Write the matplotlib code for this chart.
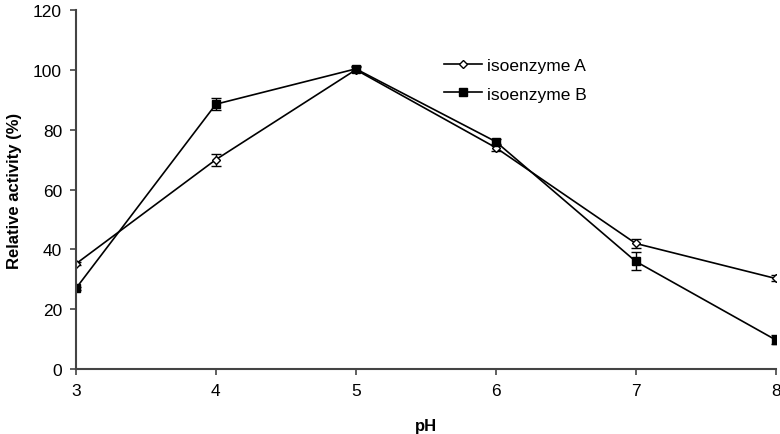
import matplotlib
matplotlib.use("Agg")
import matplotlib.pyplot as plt

ph = [3, 4, 5, 6, 7, 8]
iso_a = [35.2, 70.0, 100.0, 74.0, 42.0, 30.3]
iso_a_err = [0.5, 2.0, 0.8, 1.0, 1.5, 1.0]
iso_b = [27.0, 88.5, 100.3, 76.0, 36.0, 9.8]
iso_b_err = [0.5, 2.0, 0.8, 0.8, 3.0, 1.5]
yticks = [0, 20, 40, 60, 80, 100, 120]

plt.rcParams['font.family'] = ['Liberation Sans', 'DejaVu Sans']

fig = plt.figure(figsize=(7.8, 4.35), dpi=100)
ax = fig.add_axes([0.0974, 0.149, 0.897, 0.826])

ax.errorbar(ph, iso_a, yerr=iso_a_err, color='black', lw=1.2, marker='D',
            markersize=4.5, markerfacecolor='white', markeredgecolor='black',
            markeredgewidth=1.0, capsize=3.5, elinewidth=1.0, label='isoenzyme A')
ax.errorbar(ph, iso_b, yerr=iso_b_err, color='black', lw=1.2, marker='s',
            markersize=6, markerfacecolor='black', markeredgecolor='black',
            capsize=3.5, elinewidth=1.0, label='isoenzyme B')

ax.set_xlim(3, 8)
ax.set_ylim(0, 120)
ax.set_yticks(yticks)
ax.set_xticks(ph)
for s in ['top', 'right']:
    ax.spines[s].set_visible(False)
for s in ['left', 'bottom']:
    ax.spines[s].set_color('#444444')
    ax.spines[s].set_linewidth(1.5)
    ax.spines[s].set_clip_on(False)
ax.tick_params(direction='out', length=4, width=1.2, color='#444444',
               labelsize=12.5, pad=6)
ax.set_xlabel('pH', fontsize=12, fontweight='bold', labelpad=14)
ax.set_ylabel('Relative activity (%)', fontsize=12, fontweight='bold', labelpad=8)

handles, labels = ax.get_legend_handles_labels()
handles = [h[0] for h in handles]
ax.legend(handles, labels, loc='upper left', bbox_to_anchor=(0.503, 0.909),
          frameon=False, fontsize=12.5, handlelength=2.2, handletextpad=0.3,
          labelspacing=0.75, markerscale=0.85)

fig.savefig('out.png', dpi=100)
